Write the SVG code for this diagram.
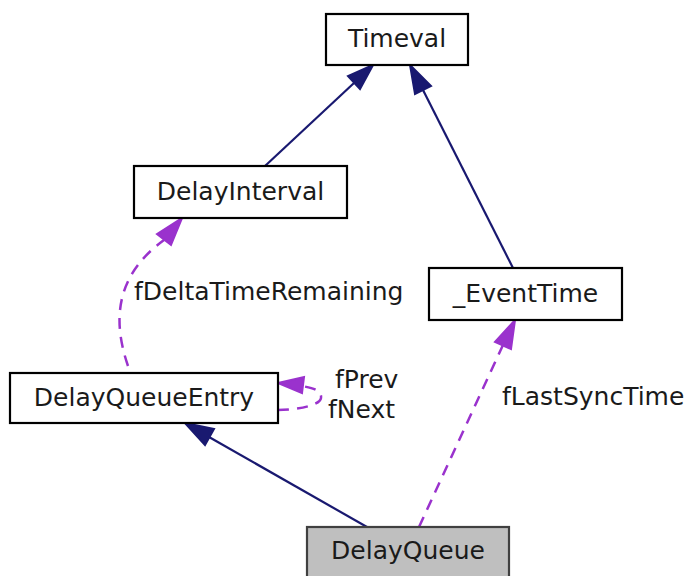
<svg xmlns="http://www.w3.org/2000/svg" width="691" height="576" viewBox="0 0 691 576">
  <style>
    .box { fill: #ffffff; stroke: #000000; stroke-width: 2.2; }
    .cur { fill: #bfbfbf; stroke: #404040; stroke-width: 2.2; }
    .lbl { font-family: "DejaVu Sans", sans-serif; font-size: 25px; fill: #1a1a1a; }
    .name { text-anchor: middle; }
    .inh { fill: none; stroke: #191970; stroke-width: 2.2; }
    .inh-head { fill: #191970; stroke: #191970; stroke-width: 2; }
    .use { fill: none; stroke: #9a32cd; stroke-width: 2.5; stroke-dasharray: 11,8; }
    .use-head { fill: #9a32cd; stroke: #9a32cd; stroke-width: 2; }
    .elbl { font-family: "DejaVu Sans", sans-serif; font-size: 25px; fill: #1a1a1a; }
  </style>
  <rect width="691" height="576" fill="#ffffff"/>

  <g id="edges">
    <!-- DelayInterval inherits Timeval -->
    <path class="inh" d="M265,166 L354,83"/>
    <polygon class="inh-head" points="373,65 348,76 360,89"/>
    <!-- _EventTime inherits Timeval -->
    <path class="inh" d="M513,268 L423,90"/>
    <polygon class="inh-head" points="410,65 431,86 415,94"/>
    <!-- DelayQueue inherits DelayQueueEntry -->
    <path class="inh" d="M367,527 L209,437"/>
    <polygon class="inh-head" points="185,423 214,429 205,445"/>
    <!-- DelayQueue uses _EventTime -->
    <path class="use" d="M419,527 L503,345"/>
    <polygon class="use-head" points="515,320 511,349 495,342"/>
    <text class="elbl" x="502" y="405">fLastSyncTime</text>
    <!-- DelayQueueEntry uses DelayInterval -->
    <path class="use" d="M128,366 C114,325 112,278 164,240"/>
    <polygon class="use-head" points="182,218 171,245 157,234"/>
    <text class="elbl" x="134" y="300">fDeltaTimeRemaining</text>
    <!-- DelayQueueEntry self references -->
    <path class="use" d="M278,410 C295,410 320,406 321,398 C322,390 312,388 302,386"/>
    <polygon class="use-head" points="278,383 304,377 302,393"/>
    <text class="elbl" x="335" y="388">fPrev</text>
    <text class="elbl" x="328" y="418">fNext</text>
  </g>

  <g id="node-timeval">
    <rect class="box" x="326" y="14" width="142" height="51"/>
    <text class="lbl name" x="397" y="47">Timeval</text>
  </g>

  <g id="node-delayinterval">
    <rect class="box" x="134" y="166" width="213" height="52"/>
    <text class="lbl name" x="240.5" y="200">DelayInterval</text>
  </g>

  <g id="node-eventtime">
    <rect class="box" x="429" y="268" width="193" height="52"/>
    <text class="lbl name" x="525.5" y="302">_EventTime</text>
  </g>

  <g id="node-delayqueueentry">
    <rect class="box" x="10" y="373" width="268" height="50"/>
    <text class="lbl name" x="144" y="406">DelayQueueEntry</text>
  </g>

  <g id="node-delayqueue">
    <rect class="cur" x="307" y="527" width="202" height="52"/>
    <text class="lbl name" x="408" y="559">DelayQueue</text>
  </g>
</svg>
